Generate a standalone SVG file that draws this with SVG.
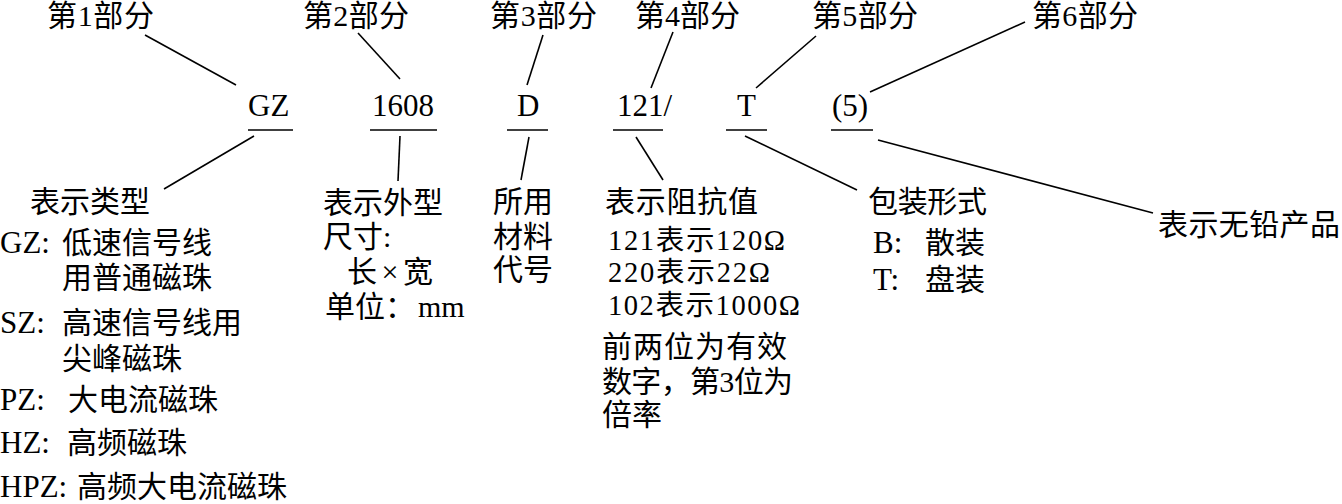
<svg xmlns="http://www.w3.org/2000/svg" width="1342" height="504" viewBox="0 0 1342 504">
<style>
text{font-family:"Liberation Serif","Noto Sans CJK SC",serif;font-size:30px;fill:#000}
.sm{font-size:28.5px}
.lat{font-size:31px}
line{stroke:#000;stroke-width:1.6;stroke-linecap:butt}
</style>
<rect width="1342" height="504" fill="#fff"/>
<g id="connectors">
<line x1="145" y1="35" x2="236" y2="85"/>
<line x1="358" y1="33" x2="400" y2="79"/>
<line x1="543" y1="35" x2="527" y2="85"/>
<line x1="673" y1="32" x2="651" y2="88"/>
<line x1="816" y1="36" x2="756" y2="88"/>
<line x1="1025" y1="22" x2="870" y2="92"/>
<line x1="254" y1="136" x2="164" y2="189"/>
<line x1="400" y1="136" x2="398" y2="181"/>
<line x1="529" y1="137" x2="521" y2="180"/>
<line x1="636" y1="137" x2="663" y2="180"/>
<line x1="745" y1="136" x2="857" y2="190"/>
<line x1="878" y1="140" x2="1153" y2="213"/>
</g>
<g id="part1"><text x="47" y="26" textLength="107">第1部分</text></g>
<g id="part2"><text x="303" y="26" textLength="106">第2部分</text></g>
<g id="part3"><text x="490" y="26" textLength="107">第3部分</text></g>
<g id="part4"><text x="635" y="26" textLength="105">第4部分</text></g>
<g id="part5"><text x="812" y="26" textLength="106">第5部分</text></g>
<g id="part6"><text x="1032" y="26" textLength="106">第6部分</text></g>
<g id="code-gz"><text class="lat" x="248" y="116">GZ</text><line x1="248" y1="130" x2="293" y2="130"/></g>
<g id="code-1608"><text class="lat" x="372" y="116">1608</text><line x1="370" y1="130" x2="437" y2="130"/></g>
<g id="code-d"><text class="lat" x="517" y="116">D</text><line x1="507" y1="130" x2="548" y2="130"/></g>
<g id="code-121"><text class="lat" x="617" y="116">121/</text><line x1="613" y1="130" x2="663" y2="130"/></g>
<g id="code-t"><text class="lat" x="737" y="116">T</text><line x1="726" y1="130" x2="767" y2="130"/></g>
<g id="code-5"><text class="lat" x="832" y="116">(5)</text><line x1="831" y1="130" x2="873" y2="130"/></g>
<g id="desc-type">
<text x="30" y="212">表示类型</text>
<text y="253"><tspan class="lat" x="0">GZ:</tspan><tspan x="62">低速信号线</tspan></text>
<text x="62" y="288">用普通磁珠</text>
<text y="333"><tspan class="lat" x="0">SZ:</tspan><tspan x="62">高速信号线用</tspan></text>
<text x="62" y="369">尖峰磁珠</text>
<text y="410"><tspan class="lat" x="0">PZ:</tspan><tspan x="68">大电流磁珠</tspan></text>
<text y="453"><tspan class="lat" x="0">HZ:</tspan><tspan x="67">高频磁珠</tspan></text>
<text y="497"><tspan class="lat" x="0">HPZ:</tspan><tspan x="77">高频大电流磁珠</tspan></text>
</g>
<g id="desc-size">
<text x="323" y="213">表示外型</text>
<text x="323" y="247">尺寸:</text>
<text x="347" y="282" textLength="86">长×宽</text>
<text y="317"><tspan x="325">单位：</tspan><tspan x="418">mm</tspan></text>
</g>
<g id="desc-material">
<text x="493" y="212">所用</text>
<text x="493" y="247">材料</text>
<text x="493" y="280">代号</text>
</g>
<g id="desc-impedance">
<text x="605" y="212" textLength="153">表示阻抗值</text>
<text class="sm" x="608" y="250" textLength="177">121表示120Ω</text>
<text class="sm" x="608" y="282" textLength="162">220表示22Ω</text>
<text class="sm" x="608" y="315" textLength="192">102表示1000Ω</text>
<text x="602" y="357" textLength="185">前两位为有效</text>
<text x="602" y="392" textLength="191">数字，第3位为</text>
<text x="602" y="425">倍率</text>
</g>
<g id="desc-package">
<text x="868" y="212" textLength="119">包装形式</text>
<text y="253"><tspan class="lat" x="873">B:</tspan><tspan x="925">散装</tspan></text>
<text y="290"><tspan class="lat" x="873">T:</tspan><tspan x="925">盘装</tspan></text>
</g>
<g id="desc-leadfree">
<text x="1158" y="235" textLength="182">表示无铅产品</text>
</g>
</svg>
